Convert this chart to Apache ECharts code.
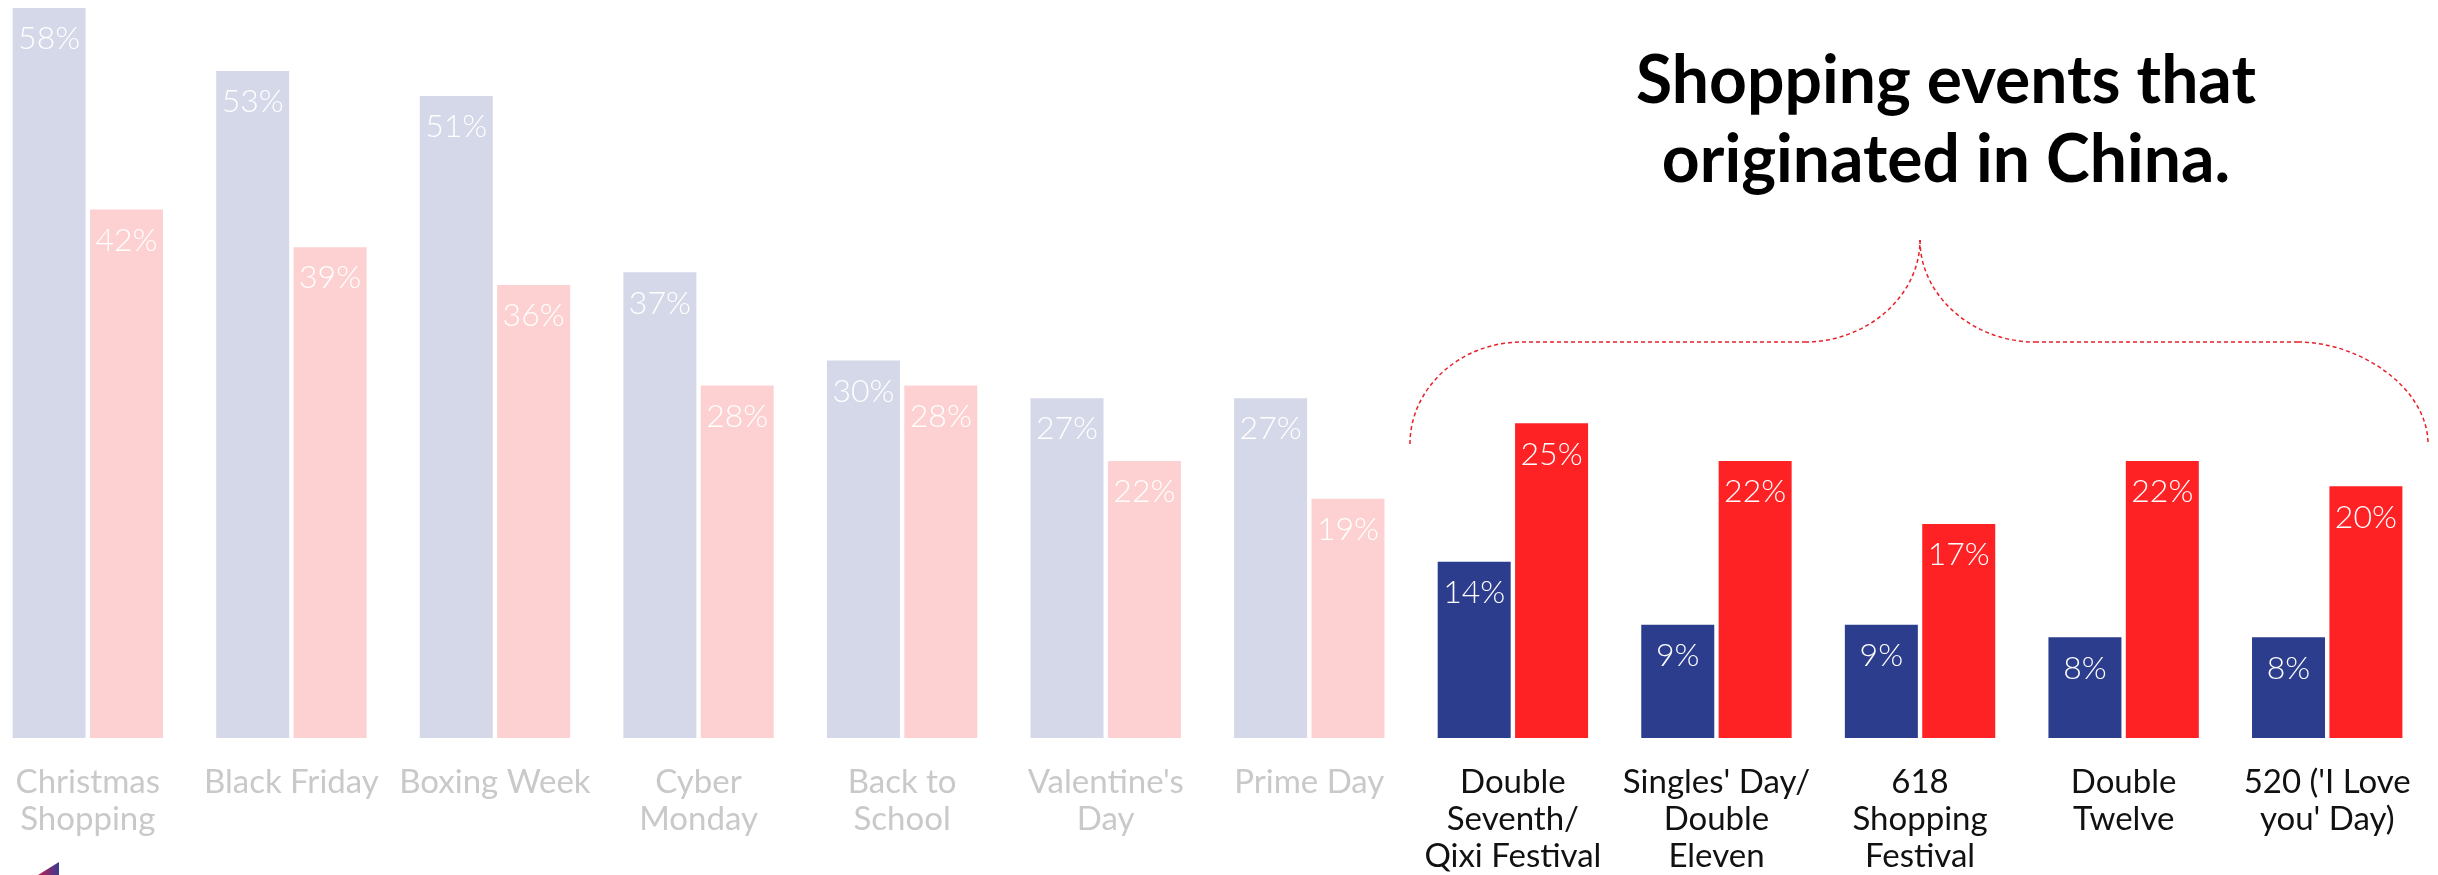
<!DOCTYPE html>
<html>
<head>
<meta charset="utf-8">
<script src="https://cdn.jsdelivr.net/npm/echarts@6/dist/echarts.min.js"></script>
<style>
  html, body { margin: 0; padding: 0; background: #fff; }
  #chart { width: 2438px; height: 875px; }
</style>
</head>
<body>
<div id="chart"></div>
<script>
// Shopping events: first seven are western-origin (faded), last five originated in China.
const categories = [
  'Christmas\nShopping', 'Black Friday', 'Boxing Week', 'Cyber\nMonday', 'Back to\nSchool',
  "Valentine's\nDay", 'Prime Day', 'Double\nSeventh/\nQixi Festival', "Singles' Day/\nDouble\nEleven",
  '618\nShopping\nFestival', 'Double\nTwelve', "520 ('I Love\nyou' Day)"
];
const blueValues = [58, 53, 51, 37, 30, 27, 27, 14, 9, 9, 8, 8];
const redValues = [42, 39, 36, 28, 28, 22, 19, 25, 22, 17, 22, 20];
const chinaStart = 7;

const FONT = 'Lato, "DejaVu Sans", sans-serif';
const fadedBlue = '#D5D8E8', fadedRed = '#FDD1D1';
const strongBlue = '#2C3D8E', strongRed = '#FF2224';

const chart = echarts.init(document.getElementById('chart'));

function barSeries(values, faded, strong) {
  return {
    type: 'bar',
    data: values,
    barWidth: 73,
    barGap: '6%',
    itemStyle: {
      color: p => p.dataIndex < chinaStart ? faded : strong
    },
    label: {
      show: true,
      position: 'insideTop',
      distance: 15,
      formatter: '{c}%',
      color: '#fff',
      fontFamily: FONT,
      fontSize: 32,
      fontWeight: 300
    },
    animation: false
  };
}

// dashed curly brace, built from curves and straight runs
const braceStyle = { stroke: '#E8202A', lineWidth: 1.5, lineDash: [4, 3], fill: 'none' };
const curve = (x1, y1, cpx1, cpy1, cpx2, cpy2, x2, y2) => ({
  type: 'bezierCurve', silent: true,
  shape: { x1, y1, cpx1, cpy1, cpx2, cpy2, x2, y2 }, style: braceStyle
});
const straight = (x1, y1, x2, y2) => ({
  type: 'line', silent: true, shape: { x1, y1, x2, y2 }, style: braceStyle
});

chart.setOption({
  animation: false,
  grid: { left: -14, right: 9, top: 8, bottom: 137, outerBoundsMode: 'none', containLabel: false },
  xAxis: {
    type: 'category',
    data: categories,
    axisLine: { show: false },
    axisTick: { show: false },
    axisLabel: {
      interval: 0,
      margin: 26,
      fontFamily: FONT,
      fontSize: 33,
      lineHeight: 37,
      color: (v, i) => i < chinaStart ? '#C9C9C9' : '#111'
    }
  },
  yAxis: {
    type: 'value',
    min: 0,
    max: 58,
    show: false,
    splitLine: { show: false }
  },
  series: [
    barSeries(blueValues, fadedBlue, strongBlue),
    barSeries(redValues, fadedRed, strongRed)
  ],
  graphic: [
    {
      type: 'text',
      x: 1946,
      y: 42,
      style: {
        text: 'Shopping events that\noriginated in China.',
        font: 'bold 66px ' + FONT,
        fill: '#000',
        textAlign: 'center',
        textVerticalAlign: 'top',
        lineHeight: 79
      }
    },
    curve(1410, 444, 1410, 388, 1460, 342, 1522, 342),
    straight(1522, 342, 1805, 342),
    curve(1805, 342, 1867, 342, 1920, 296, 1920, 240),
    curve(1920, 240, 1920, 296, 1973, 342, 2035, 342),
    straight(2035, 342, 2298, 342),
    curve(2298, 342, 2360, 342, 2428, 388, 2428, 444),
    {
      type: 'polygon',
      shape: { points: [[38, 875], [59, 862], [59, 875]] },
      style: {
        fill: new echarts.graphic.LinearGradient(0, 0, 1, 0, [
          { offset: 0, color: '#C02050' },
          { offset: 1, color: '#3A3A90' }
        ])
      }
    }
  ]
});
</script>
</body>
</html>
